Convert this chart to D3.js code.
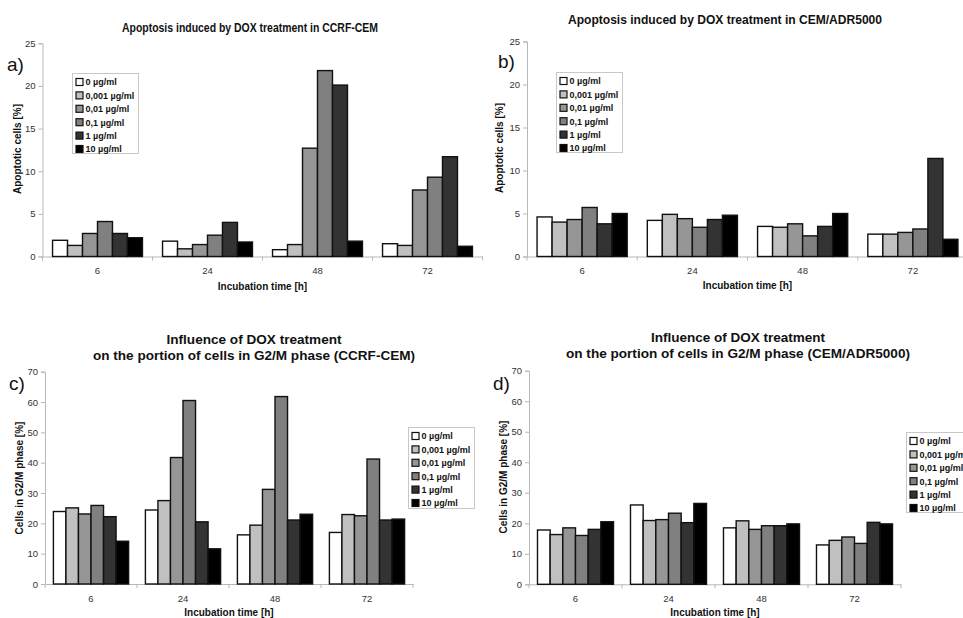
<!DOCTYPE html>
<html><head><meta charset="utf-8">
<script src="https://cdn.jsdelivr.net/npm/d3@7"></script>
<style>body{margin:0;background:#fff}svg{display:block}text{font-family:"Liberation Sans",Arial,sans-serif}</style>
</head><body><svg id="c" width="963" height="618"></svg>
<script>
// ---------- data ----------
const categories = ["6", "24", "48", "72"];
const seriesNames = ["0 µg/ml", "0,001 µg/ml", "0,01 µg/ml", "0,1 µg/ml", "1 µg/ml", "10 µg/ml"];
const seriesColors = ["#ffffff", "#c0c0c0", "#969696", "#808080", "#333333", "#000000"];

// Apoptosis, CCRF-CEM (rows = series, cols = categories)
const apoCCRF = [
  [1.9, 1.8, 0.8, 1.5],
  [1.3, 0.9, 1.4, 1.3],
  [2.7, 1.4, 12.7, 7.8],
  [4.1, 2.5, 21.8, 9.3],
  [2.7, 4.0, 20.1, 11.7],
  [2.2, 1.7, 1.8, 1.2]
];
// Apoptosis, CEM/ADR5000
const apoADR = [
  [4.6, 4.2, 3.5, 2.6],
  [4.0, 4.9, 3.4, 2.6],
  [4.3, 4.4, 3.8, 2.8],
  [5.7, 3.4, 2.4, 3.2],
  [3.8, 4.3, 3.5, 11.4],
  [5.0, 4.8, 5.0, 2.0]
];
// G2/M, CCRF-CEM
const g2mCCRF = [
  [23.9, 24.4, 16.2, 17.0],
  [25.1, 27.5, 19.4, 22.9],
  [23.1, 41.7, 31.2, 22.5],
  [25.9, 60.5, 61.8, 41.2],
  [22.2, 20.5, 21.1, 21.1],
  [14.1, 11.6, 23.0, 21.4]
];
// G2/M, CEM/ADR5000
const g2mADR = [
  [17.8, 26.0, 18.5, 12.9],
  [16.3, 20.9, 20.8, 14.4],
  [18.5, 21.2, 18.0, 15.5],
  [16.0, 23.3, 19.2, 13.4],
  [18.0, 20.2, 19.2, 20.3],
  [20.5, 26.5, 19.8, 19.8]
];
const apoTicks = [0, 5, 10, 15, 20, 25];
const g2mTicks = [0, 10, 20, 30, 40, 50, 60, 70];

// ---------- drawing ----------
const svg = d3.select("#c");

function panel(o) {
  const g = svg.append("g");
  const x = d3.scaleBand().domain(categories).range([o.x0, o.x1]);
  const xi = d3.scaleBand().domain(seriesNames).range([0, x.bandwidth()]).paddingOuter(0.67);
  const y = d3.scaleLinear().domain([0, o.ymax]).range([o.yb, o.yt]);

  // axes
  const ya = g.append("g").attr("transform", `translate(${o.x0},0)`)
    .call(d3.axisLeft(y).tickValues(o.ticks).tickSize(4).tickPadding(3));
  const xa = g.append("g").attr("transform", `translate(0,${o.yb})`)
    .call(d3.axisBottom(x).tickSize(0).tickPadding(11));
  [ya, xa].forEach(a => {
    a.selectAll("path,line").attr("stroke", "#b8b8b8");
    a.selectAll("text").attr("font-size", 9.5).attr("fill", "#333")
      .attr("font-family", '"Liberation Sans",Arial,sans-serif');
  });
  // x boundary ticks
  g.append("g").selectAll("line").data(categories.concat(["end"])).join("line")
    .attr("x1", (d, i) => i < 4 ? x(d) : o.x1).attr("x2", (d, i) => i < 4 ? x(d) : o.x1)
    .attr("y1", o.yb).attr("y2", o.yb + 4).attr("stroke", "#b8b8b8");

  // bars
  o.data.forEach((row, si) => {
    g.append("g").selectAll("rect").data(row).join("rect")
      .attr("x", (d, ci) => x(categories[ci]) + xi(seriesNames[si]))
      .attr("width", xi.bandwidth())
      .attr("y", d => y(d)).attr("height", d => y(0) - y(d))
      .attr("fill", seriesColors[si]).attr("stroke", "#111").attr("stroke-width", 1.4);
  });

  // titles
  o.titles.forEach(t => {
    g.append("text").attr("x", t.x).attr("y", t.y).attr("text-anchor", "middle")
      .attr("font-weight", "bold").attr("font-size", t.size).attr("fill", "#111")
      .attr("textLength", t.len).attr("lengthAdjust", "spacingAndGlyphs").text(t.text);
  });
  // axis labels
  g.append("text").attr("x", (o.x0 + o.x1) / 2 + o.xlabDx).attr("y", o.xlabY).attr("text-anchor", "middle")
    .attr("font-weight", "bold").attr("font-size", 10).attr("fill", "#111").text("Incubation time [h]");
  g.append("text").attr("transform", `translate(${o.ylabX},${o.ylabY}) rotate(-90)`)
    .attr("text-anchor", "middle").attr("font-weight", "bold").attr("font-size", 10).attr("fill", "#111")
    .text(o.ylab);
  // letter
  g.append("text").attr("x", o.lx).attr("y", o.ly).attr("font-size", 19).attr("fill", "#111")
    .attr("font-family", '"Open Sans",sans-serif').text(o.letter);

  // legend
  const L = o.legend;
  g.append("rect").attr("x", L.x).attr("y", L.y).attr("width", L.w).attr("height", L.h)
    .attr("fill", "#fff").attr("stroke", "#c8c8c8");
  seriesNames.forEach((s, i) => {
    const cy = L.y + 8.5 + i * 13.4;
    g.append("rect").attr("x", L.x + 3.5).attr("y", cy - 3.5).attr("width", 7).attr("height", 7)
      .attr("fill", seriesColors[i]).attr("stroke", "#111").attr("stroke-width", 1.2);
    g.append("text").attr("x", L.x + 13).attr("y", cy + 3.3).attr("font-size", 9)
      .attr("font-weight", "bold").attr("fill", "#111").text(s);
  });
}

panel({
  data: apoCCRF, ymax: 25, ticks: apoTicks, x0: 42.5, x1: 482.5, yb: 256.5, yt: 43.3,
  titles: [{ text: "Apoptosis induced by DOX treatment in CCRF-CEM", x: 250, y: 32, size: 12, len: 256 }],
  xlabY: 290, xlabDx: 0, ylab: "Apoptotic cells [%]", ylabX: 21, ylabY: 149,
  letter: "a)", lx: 7, ly: 71,
  legend: { x: 72.5, y: 73.5, w: 66, h: 80 }
});
panel({
  data: apoADR, ymax: 25, ticks: apoTicks, x0: 527, x1: 968, yb: 256.5, yt: 41.5,
  titles: [{ text: "Apoptosis induced by DOX treatment in CEM/ADR5000", x: 725, y: 24, size: 13, len: 314 }],
  xlabY: 289, xlabDx: 0, ylab: "Apoptotic cells [%]", ylabX: 503, ylabY: 148,
  letter: "b)", lx: 498, ly: 68,
  legend: { x: 556.5, y: 72.5, w: 66, h: 80 }
});
panel({
  data: g2mCCRF, ymax: 70, ticks: g2mTicks, x0: 45, x1: 413, yb: 584, yt: 371.7,
  titles: [{ text: "Influence of DOX treatment", x: 254, y: 344, size: 12.5, len: 175 },
           { text: "on the portion of cells in G2/M phase (CCRF-CEM)", x: 254, y: 360, size: 12.5, len: 322 }],
  xlabY: 616, xlabDx: 0, ylab: "Cells in G2/M phase [%]", ylabX: 23, ylabY: 478,
  letter: "c)", lx: 9, ly: 390,
  legend: { x: 408.5, y: 427.5, w: 66, h: 81 }
});
panel({
  data: g2mADR, ymax: 70, ticks: g2mTicks, x0: 529, x1: 901, yb: 584.3, yt: 370.7,
  titles: [{ text: "Influence of DOX treatment", x: 738, y: 342, size: 12.5, len: 174 },
           { text: "on the portion of cells in G2/M phase (CEM/ADR5000)", x: 738, y: 358, size: 12.5, len: 344 }],
  xlabY: 616, xlabDx: 0, ylab: "Cells in G2/M phase [%]", ylabX: 507, ylabY: 477,
  letter: "d)", lx: 493, ly: 390,
  legend: { x: 906.5, y: 432.5, w: 66, h: 80 }
});
</script></body></html>
